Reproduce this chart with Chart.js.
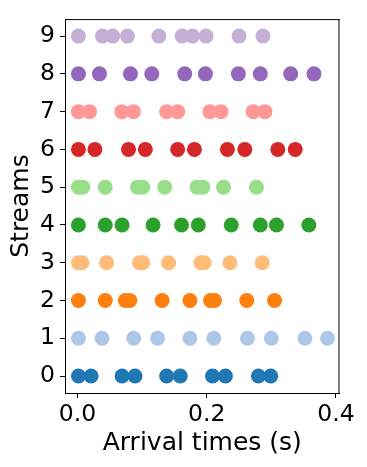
<!DOCTYPE html>
<html><head><meta charset="utf-8">
<script src="https://cdn.jsdelivr.net/npm/chart.js@4/dist/chart.umd.min.js"></script>
<style>html,body{margin:0;padding:0;background:#fff;}#c{display:block;}</style>
</head><body>
<canvas id="c" width="367" height="467"></canvas>
<script>
const streams = [0,1,2,3,4,5,6,7,8,9];
const colors = ["#1f77b4","#aec7e8","#ff7f0e","#ffbb78","#2ca02c","#98df8a","#d62728","#ff9896","#9467bd","#c5b0d5"];
const stream0 = [0.0015,0.021,0.069,0.089,0.138,0.159,0.209,0.229,0.280,0.299];
const stream1 = [0.0015,0.038,0.087,0.124,0.174,0.211,0.263,0.300,0.352,0.387];
const stream2 = [0.0015,0.043,0.074,0.081,0.131,0.174,0.206,0.212,0.262,0.305];
const stream3 = [0.0015,0.0067,0.045,0.096,0.101,0.141,0.191,0.196,0.236,0.286];
const stream4 = [0.0015,0.043,0.069,0.117,0.161,0.187,0.238,0.283,0.308,0.358];
const stream5 = [0.0015,0.0082,0.043,0.093,0.101,0.135,0.185,0.194,0.226,0.277];
const stream6 = [0.0015,0.027,0.079,0.105,0.155,0.181,0.232,0.259,0.310,0.337];
const stream7 = [0.0015,0.0186,0.0686,0.0866,0.138,0.155,0.205,0.222,0.272,0.290];
const stream8 = [0.0015,0.034,0.082,0.115,0.166,0.198,0.249,0.283,0.330,0.366];
const stream9 = [0.0015,0.0387,0.0546,0.0773,0.126,0.162,0.178,0.199,0.250,0.287];
const arrivals = [stream0,stream1,stream2,stream3,stream4,stream5,stream6,stream7,stream8,stream9];
const xTicks = [0.0,0.2,0.4];
const xTickLabels = ["0.0","0.2","0.4"];
const yTicks = streams;
const yTickLabels = ["0","1","2","3","4","5","6","7","8","9"];

const datasets = streams.map((s,i)=>({
  label: String(s),
  data: arrivals[i].map(t=>({x:t,y:s})),
  backgroundColor: colors[i],
  borderColor: colors[i],
  borderWidth: 0,
  pointRadius: 7.5,
  pointHoverRadius: 7.5
}));

const FONT = "'DejaVu Sans'";
new Chart(document.getElementById('c'), {
  type: 'scatter',
  data: {datasets},
  options: {
    responsive: false,
    animation: false,
    events: [],
    layout: {padding: {top: 10, right: 27.5, left: 0, bottom: 0}},
    plugins: {legend: {display:false}, tooltip:{enabled:false}},
    scales: {
      x: {
        type: 'linear', min: -0.0193, max: 0.4055,
        afterBuildTicks: ax => { ax.ticks = xTicks.map(v=>({value:v})); },
        afterFit: ax => { ax.height = 74; },
        ticks: {color:'#000', font:{family:FONT,size:23.5}, padding:3, maxRotation:0,
          callback: (v,i)=> xTickLabels[i]},
        grid: {drawOnChartArea:false, tickLength:5, tickColor:'#000', tickWidth:1},
        border: {color:'#000', width:1},
        title: {display:true, text:'Arrival times (s)', color:'#000', font:{family:FONT,size:25}, padding:{top:9,bottom:9}}
      },
      y: {
        type: 'linear', min: -0.45, max: 9.45,
        afterBuildTicks: ax => { ax.ticks = yTicks.map(v=>({value:v})); },
        afterFit: ax => { ax.width = 65; },
        ticks: {color:'#000', font:{family:FONT,size:23.5}, padding:5,
          callback: (v,i)=> yTickLabels[i]},
        grid: {drawOnChartArea:false, tickLength:5, tickColor:'#000', tickWidth:1},
        border: {color:'#000', width:1},
        title: {display:true, text:'Streams', color:'#000', font:{family:FONT,size:25}, padding:{top:6.5,bottom:0}}
      }
    }
  },
  plugins: [{
    id:'frame',
    afterDraw(chart){
      const {ctx, chartArea:a} = chart;
      ctx.save(); ctx.strokeStyle='#000'; ctx.lineWidth=1;
      ctx.beginPath();
      ctx.moveTo(a.left, a.top+0.5); ctx.lineTo(a.right, a.top+0.5);
      ctx.moveTo(a.right-0.5, a.top); ctx.lineTo(a.right-0.5, a.bottom);
      ctx.stroke(); ctx.restore();
    }
  }]
});
</script>
</body></html>
